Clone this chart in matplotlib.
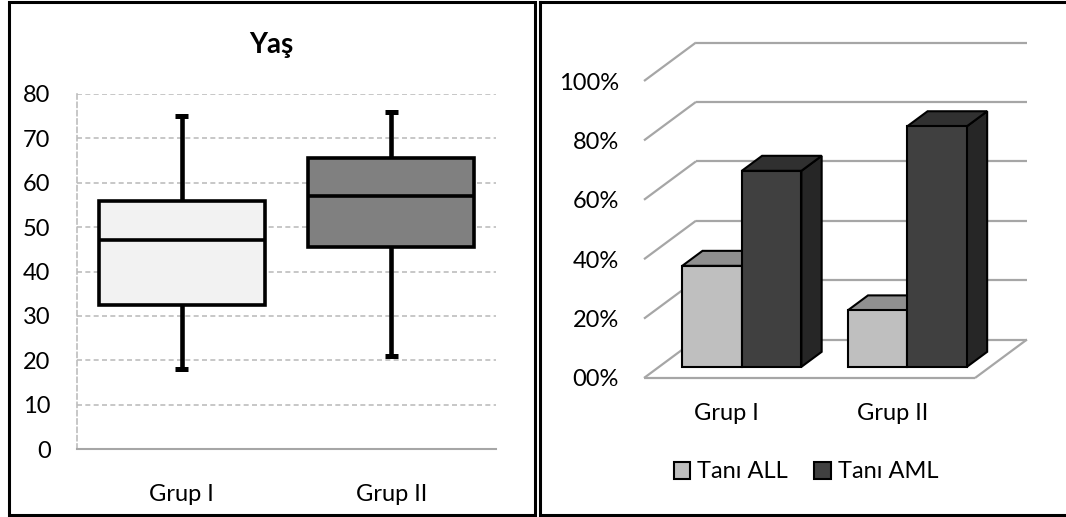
import matplotlib
matplotlib.use("Agg")
import matplotlib.pyplot as plt
from matplotlib.patches import Polygon, Patch, Rectangle
from matplotlib.lines import Line2D

plt.rcParams['font.family'] = ['Lato', 'DejaVu Sans']

# age box plot (Yaş)
groups = ['Grup I', 'Grup II']
age_whislo = [18, 21]
age_q1 = [32.5, 45.5]
age_med = [47, 57]
age_q3 = [56, 65.5]
age_whishi = [75, 76]
box_colors = ['#f2f2f2', '#808080']
age_ticks = list(range(0, 81, 10))

# diagnosis share per group (%)
series = ['Tanı ALL', 'Tanı AML']
all_pct = [34, 19]
aml_pct = [66, 81]
pct_ticks = [0, 20, 40, 60, 80, 100]
pct_labels = ['00%', '20%', '40%', '60%', '80%', '100%']

# bar faces: front, top, side
all_colors = ('#bfbfbf', '#8f8f8f', '#7a7a7a')
aml_colors = ('#404040', '#303030', '#262626')

W, H = 1066, 517
FS = 17


def fx(px):
    return px / W


def fy(py):
    return 1 - py / H


fig = plt.figure(figsize=(W / 100, H / 100), dpi=100)

# ---------- left panel ----------
ax1 = fig.add_axes([fx(77), fy(449), 419 / W, 355 / H])
stats = []
for i, g in enumerate(groups):
    stats.append(dict(label=g, whislo=age_whislo[i], q1=age_q1[i], med=age_med[i],
                      q3=age_q3[i], whishi=age_whishi[i], fliers=[]))
bp = ax1.bxp(stats, positions=[1, 2], widths=0.79, patch_artist=True, showfliers=False,
             boxprops=dict(edgecolor='black', linewidth=2.6),
             medianprops=dict(color='black', linewidth=2.6),
             whiskerprops=dict(color='black', linewidth=3.3, solid_capstyle='butt'),
             capprops=dict(color='black', linewidth=3.6, solid_capstyle='butt'),
             capwidths=0.06, zorder=3)
for patch, c in zip(bp['boxes'], box_colors):
    patch.set_facecolor(c)

ax1.set_xlim(0.5, 2.5)
ax1.set_ylim(0, 80)
ax1.set_yticks(age_ticks)
ax1.set_xticks([1, 2], groups)
ax1.set_axisbelow(True)
ax1.yaxis.grid(True, linestyle=(0, (3, 2)), color='#bdbdbd', linewidth=1.2)
ax1.spines['top'].set_visible(False)
ax1.spines['right'].set_visible(False)
ax1.spines['left'].set_linestyle((0, (3, 2)))
ax1.spines['left'].set_color('#bdbdbd')
ax1.spines['left'].set_linewidth(1.2)
ax1.spines['bottom'].set_color('#a6a6a6')
ax1.spines['bottom'].set_linewidth(1.5)
ax1.tick_params(length=0, labelsize=FS)
ax1.tick_params(axis='y', pad=19)
ax1.tick_params(axis='x', pad=25)

fig.text(fx(271), fy(53), 'Yaş', ha='center', va='baseline', fontsize=20, fontweight='bold')

# ---------- right panel (pseudo 3D columns) ----------
ax2 = fig.add_axes([fx(644), fy(378), 406 / W, 348 / H])
ax2.set_xlim(0, 406 / 165.5)
ax2.set_ylim(0, 348 / 2.97)
for s in ax2.spines.values():
    s.set_visible(False)
ax2.set_yticks(pct_ticks, pct_labels)
ax2.set_xticks([0.5, 1.5], groups)
ax2.tick_params(length=0, labelsize=FS)
ax2.tick_params(axis='y', pad=18)
ax2.tick_params(axis='x', pad=18)

DX, DY = 0.314, 12.96      # depth offset of the back wall
n = len(groups)
wall = dict(color='#a6a6a6', lw=1.6, clip_on=False, zorder=1, solid_capstyle='butt')
for v in pct_ticks:
    ax2.plot([DX, n + DX], [v + DY, v + DY], **wall)
    ax2.plot([0, DX], [v, v + DY], **wall)
ax2.plot([0, n], [0, 0], **wall)
ax2.plot([n, n + DX], [0, DY], **wall)

bar_w = 0.36
z0, z1 = 0.29, 0.68


def pt(x, y, z):
    return (x + z * DX, y + z * DY)


def draw_bar(x0, h, colors):
    x1 = x0 + bar_w
    front = [pt(x0, 0, z0), pt(x1, 0, z0), pt(x1, h, z0), pt(x0, h, z0)]
    top = [pt(x0, h, z0), pt(x1, h, z0), pt(x1, h, z1), pt(x0, h, z1)]
    side = [pt(x1, 0, z0), pt(x1, 0, z1), pt(x1, h, z1), pt(x1, h, z0)]
    for poly, c in ((side, colors[2]), (top, colors[1]), (front, colors[0])):
        ax2.add_patch(Polygon(poly, closed=True, facecolor=c, edgecolor='black',
                              lw=1.5, joinstyle='miter', clip_on=False, zorder=3))


for i in range(n):
    left = i + 0.5 - bar_w
    draw_bar(left, all_pct[i], all_colors)
    draw_bar(left + bar_w, aml_pct[i], aml_colors)

handles = [Patch(facecolor=all_colors[0], edgecolor='black', lw=1.5, label=series[0]),
           Patch(facecolor=aml_colors[0], edgecolor='black', lw=1.5, label=series[1])]
fig.legend(handles=handles, loc='center', bbox_to_anchor=(fx(806), fy(472)), ncol=2,
           frameon=False, fontsize=FS, handlelength=0.7, handleheight=0.7,
           handletextpad=0.3, columnspacing=1.1)

# ---------- panel frames ----------
fig.add_artist(Rectangle((fx(8.5), fy(515)), (534.5 - 8.5) / W, (515 - 1.5) / H,
                         transform=fig.transFigure, fill=False, edgecolor='black', lw=2.2))
frame = dict(transform=fig.transFigure, color='black', lw=2.2)
fig.add_artist(Line2D([fx(539.5), fx(539.5)], [fy(1.5), fy(515)], **frame))
fig.add_artist(Line2D([fx(539.5), 1], [fy(1.5), fy(1.5)], **frame))
fig.add_artist(Line2D([fx(539.5), 1], [fy(515), fy(515)], **frame))

fig.savefig('out.png', dpi=100)
